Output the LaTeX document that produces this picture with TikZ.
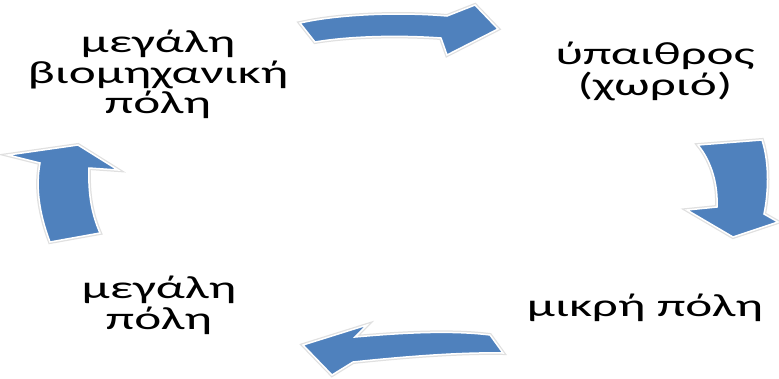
\documentclass[tikz,border=0pt]{standalone}
\usepackage{fontspec}
\setmainfont{Carlito}
\usepackage{tikz}
\definecolor{arrowblue}{RGB}{79,129,189}
\newcommand{\widetext}[1]{\scalebox{1.6}[1]{\begin{tabular}{@{}c@{}}#1\end{tabular}}}

\begin{document}
\begin{tikzpicture}[x=1pt,y=-1pt,
	label/.style={font=\fontsize{32}{27}\selectfont, inner sep=0pt},
	blockarrow/.style={fill=arrowblue, draw=white, line width=1.5pt,
		preaction={draw=black!12, line width=4pt}}]
\useasboundingbox (0,0) rectangle (779,378);
%labels
\node[label] (bigind) at (158,76) {\widetext{μεγάλη\\βιομηχανική\\πόλη}};
\node[label] (country) at (655,73) {\widetext{ύπαιθρος\\(χωριό)}};
\node[label] (smalltown) at (645,309) {\widetext{μικρή πόλη}};
\node[label] (bigcity) at (159,307) {\widetext{μεγάλη\\πόλη}};
%arrow1 (top)
\filldraw[blockarrow] (300,23) .. controls (340,14) and (400,12) .. (447,16)
	-- (475,5) -- (498,29) -- (447,55) -- (441,38)
	.. controls (400,35) and (350,36) .. (315,42) -- cycle;
%arrow2 (right)
\filldraw[blockarrow] (698,145) -- (762,140)
	.. controls (770,165) and (768,195) .. (764,214)
	-- (778,222) -- (733,237) -- (687,210) -- (717,207)
	.. controls (718,185) and (712,162) .. (698,145) -- cycle;
%arrow3 (bottom)
\filldraw[blockarrow] (490,335) .. controls (450,330) and (400,333) .. (355,337)
	-- (367,325) -- (303,345) -- (332,375) -- (353,362)
	.. controls (400,357) and (460,352) .. (503,353) -- cycle;
%arrow4 (left)
\filldraw[blockarrow] (50,242) .. controls (38,210) and (36,185) .. (40,163)
	-- (8,155) -- (78,145) -- (118,170) -- (89,168)
	.. controls (88,195) and (92,215) .. (100,233) -- cycle;
\end{tikzpicture}
\end{document}
